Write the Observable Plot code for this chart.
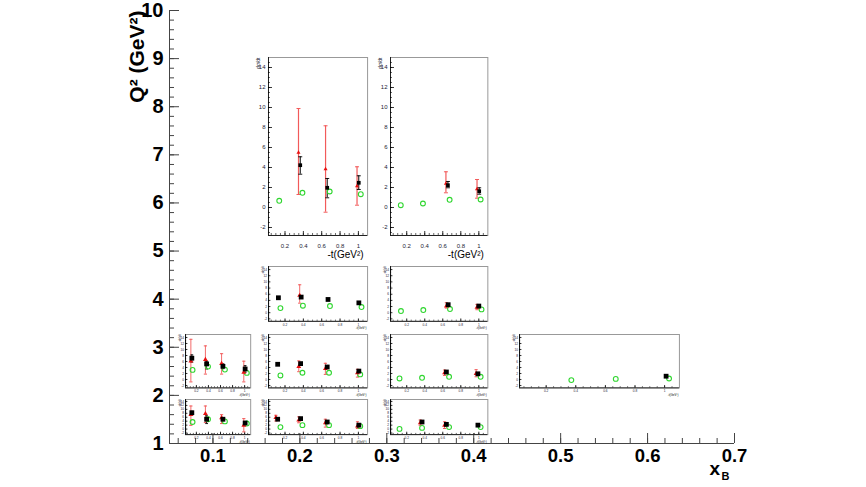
<!DOCTYPE html>
<html><head><meta charset="utf-8">
<script src="https://cdn.jsdelivr.net/npm/d3@7"></script>
<script src="https://cdn.jsdelivr.net/npm/@observablehq/plot@0.6"></script>
<style>
body{margin:0;background:#fff;}
#chart{position:relative;width:866px;height:487px;overflow:hidden;}
#chart svg{position:absolute;overflow:visible;}
</style></head><body><div id="chart"></div>
<script>
// ---- main axes (xB, Q2) ----
const xBDomain = [0.05, 0.7];
const q2Domain = [1, 10];
const xBTicks = [0.1, 0.2, 0.3, 0.4, 0.5, 0.6, 0.7];
const q2Ticks = [1, 2, 3, 4, 5, 6, 7, 8, 9, 10];

// ---- inset panels: bin ranges in (xB, Q2) ----
const panelIds = ["B1", "C1", "B2", "C2", "A3", "B3", "C3", "D3", "A4", "B4", "C4"];
const panelXB = {A: [0.068, 0.143], B: [0.164, 0.278], C: [0.304, 0.416], D: [0.453, 0.637]};
const panelQ2 = {1: [5.32, 9.02], 2: [3.54, 4.68], 3: [2.16, 3.27], 4: [1.19, 1.92]};

// ---- inset axes (-t, dsigma/dt) ----
const tDomain = [0.02, 1.1];
const sDomain = [-2.8, 15];
const tTicks = [0.2, 0.4, 0.6, 0.8, 1];
const sTicks = [-2, 0, 2, 4, 6, 8, 10, 12, 14];

// black squares: [panel, -t, value, low, high]
const dataPts = [
  ["B1", 0.366, 4.23, 3.33, 5.07], ["B1", 0.66, 1.97, 0.97, 2.9], ["B1", 1.004, 2.47, 1.8, 3.17],
  ["C1", 0.657, 2.23, 1.97, 2.6], ["C1", 1.004, 1.63, 1.33, 1.97],
  ["B2", 0.128, 4.85, 4.5, 5.2], ["B2", 0.376, 5.07, 4.7, 5.4], ["B2", 0.669, 4.3, 4.0, 4.6], ["B2", 1.005, 3.2, 2.9, 3.5],
  ["C2", 0.66, 2.6, 2.3, 2.9], ["C2", 1.0, 2.16, 1.9, 2.4],
  ["A3", 0.125, 7.1, 5.8, 8.2], ["A3", 0.37, 5.2, 3.5, 6.1], ["A3", 0.64, 4.4, 3.6, 5.2], ["A3", 1.008, 3.5, 2.4, 4.6],
  ["B3", 0.12, 5.07, 4.7, 5.4], ["B3", 0.37, 5.3, 5.0, 5.6], ["B3", 0.66, 4.17, 3.9, 4.5], ["B3", 1.005, 2.8, 2.5, 3.1],
  ["C3", 0.64, 2.5, 2.2, 2.8], ["C3", 0.99, 1.9, 1.6, 2.2],
  ["D3", 1.01, 1.1, 0.8, 1.4],
  ["A4", 0.125, 8.3, 7.3, 9.0], ["A4", 0.37, 5.0, 2.8, 6.7], ["A4", 0.64, 5.0, 4.2, 5.8], ["A4", 1.008, 3.1, 2.5, 3.7],
  ["B4", 0.12, 5.0, 4.6, 5.4], ["B4", 0.37, 5.3, 4.9, 5.7], ["B4", 0.66, 3.6, 3.2, 4.0], ["B4", 1.005, 2.0, 1.6, 2.4],
  ["C4", 0.37, 3.6, 3.2, 4.0], ["C4", 0.64, 2.4, 2.0, 2.8], ["C4", 0.99, 2.0, 1.6, 2.4]
];

// red triangles: [panel, -t, value, low, high]
const redPts = [
  ["B1", 0.347, 5.5, 1.3, 9.9], ["B1", 0.642, 3.83, -0.47, 8.17], ["B1", 0.985, 2.13, 0.23, 4.07],
  ["C1", 0.635, 2.4, 1.47, 3.57], ["C1", 0.98, 1.83, 0.93, 2.8],
  ["B2", 0.36, 5.6, 3.1, 9.06],
  ["C2", 0.64, 2.16, 1.5, 3.24], ["C2", 0.98, 1.73, 0.97, 2.7],
  ["A3", 0.109, 6.1, -0.8, 13.4], ["A3", 0.35, 6.65, 1.8, 11.2], ["A3", 0.618, 5.3, 1.8, 8.6], ["A3", 0.986, 2.4, -0.8, 6.1],
  ["B3", 0.35, 4.28, 2.6, 6.2], ["B3", 0.64, 3.6, 1.7, 5.4], ["B3", 0.99, 2.25, 0.8, 3.4],
  ["C3", 0.62, 2.25, 1.35, 3.15], ["C3", 0.97, 2.0, 0.9, 3.27],
  ["A4", 0.109, 7.3, 1.9, 11.7], ["A4", 0.35, 7.8, 3.3, 11.7], ["A4", 0.618, 5.7, 2.8, 7.3], ["A4", 0.986, 1.9, -1.4, 5.3],
  ["B4", 0.1, 5.8, 4.1, 7.0], ["B4", 0.35, 4.5, 3.2, 6.2], ["B4", 0.64, 3.2, 1.0, 5.0], ["B4", 0.99, 1.5, 0.3, 3.7],
  ["C4", 0.35, 3.2, 1.9, 4.6], ["C4", 0.62, 1.9, 0.3, 3.7]
];

// green open circles (model): [panel, -t, value]
const modelPts = [
  ["B1", 0.137, 0.67], ["B1", 0.39, 1.47], ["B1", 0.687, 1.6], ["B1", 1.026, 1.33],
  ["C1", 0.134, 0.23], ["C1", 0.38, 0.4], ["C1", 0.676, 0.77], ["C1", 1.02, 0.8],
  ["B2", 0.15, 1.5], ["B2", 0.395, 2.27], ["B2", 0.69, 2.16], ["B2", 1.034, 1.83],
  ["C2", 0.136, 0.54], ["C2", 0.384, 0.86], ["C2", 0.68, 1.19], ["C2", 1.03, 1.08],
  ["A3", 0.137, 3.2], ["A3", 0.393, 4.3], ["A3", 0.673, 3.3], ["A3", 1.036, 2.2],
  ["B3", 0.15, 1.35], ["B3", 0.39, 2.25], ["B3", 0.68, 2.25], ["B3", 1.02, 1.7],
  ["C3", 0.12, 0.34], ["C3", 0.37, 0.56], ["C3", 0.67, 0.9], ["C3", 1.02, 0.9],
  ["D3", 0.37, -0.2], ["D3", 0.67, 0.2], ["D3", 1.03, 0.33],
  ["A4", 0.137, 3.6], ["A4", 0.393, 5.0], ["A4", 0.673, 3.9], ["A4", 1.036, 2.8],
  ["B4", 0.15, 1.0], ["B4", 0.39, 2.0], ["B4", 0.68, 2.0], ["B4", 1.02, 1.5],
  ["C4", 0.12, 0.1], ["C4", 0.37, 0.6], ["C4", 0.67, 1.0], ["C4", 1.02, 1.0]
];

const FONT = "'Liberation Sans', Arial, Helvetica, sans-serif";
const W = 866, H = 487;
const mLeft = 169, mRight = 132, mTop = 10, mBottom = 44;
const frameW = W - mLeft - mRight, frameH = H - mTop - mBottom;
const axisColor = "#444";

const xBMinor = d3.range(0.06, 0.7001, 0.02);
const q2Minor = d3.range(1.2, 10.001, 0.2);

const main = Plot.plot({
  width: W, height: H,
  marginLeft: mLeft, marginRight: mRight, marginTop: mTop, marginBottom: mBottom,
  x: {domain: xBDomain},
  y: {domain: q2Domain},
  style: {fontFamily: FONT, background: "white", color: "#000"},
  marks: [
    Plot.ruleX([xBDomain[0]], {stroke: axisColor}),
    Plot.ruleY([q2Domain[0]], {stroke: axisColor}),
    Plot.tickX(xBMinor, {x: d => d, insetTop: frameH - 5, stroke: axisColor}),
    Plot.tickX(xBTicks, {x: d => d, insetTop: frameH - 10, stroke: axisColor}),
    Plot.tickY(q2Minor, {y: d => d, insetRight: frameW - 5, stroke: axisColor}),
    Plot.tickY(q2Ticks, {y: d => d, insetRight: frameW - 10, stroke: axisColor}),
    Plot.axisX({ticks: xBTicks, tickSize: 0, tickPadding: 5, fontSize: 18.5, fontWeight: "bold", label: null, tickFormat: d => d.toFixed(1)}),
    Plot.axisY({ticks: q2Ticks, tickSize: 0, tickPadding: 6, fontSize: 20, fontWeight: "bold", label: null, tickFormat: d => String(d)}),
    Plot.text(["Q² (GeV²)"], {frameAnchor: "top-left", rotate: -90, textAnchor: "end", dx: -40, dy: 0, fontSize: 21, fontWeight: "bold"}),
    Plot.text(["x"], {frameAnchor: "bottom-right", dx: -14.5, dy: 31, fontSize: 19, fontWeight: "bold"}),
    Plot.text(["B"], {frameAnchor: "bottom-right", dx: -5, dy: 36.5, fontSize: 11, fontWeight: "bold"})
  ]
});
const chart = document.getElementById("chart");
main.style.left = "0px"; main.style.top = "0px";
chart.appendChild(main);

const sx = main.scale("x"), sy = main.scale("y");
const capSymbol = {draw(ctx, size) { const r = Math.sqrt(size / Math.PI); ctx.moveTo(-r, 0); ctx.lineTo(r, 0); }};
const tMinor = d3.range(0.05, 1.1, 0.05);
const sMinor = d3.range(-2.5, 15, 0.5);
const fmtS = d => d < 0 ? "-" + (-d) : String(d);
const fmtT = d => d === 1 ? "1" : d.toFixed(1);

for (const id of panelIds) {
  const col = id[0], row = +id[1];
  const big = row === 1;
  const x0 = sx.apply(panelXB[col][0]), x1 = sx.apply(panelXB[col][1]);
  const yTop = sy.apply(panelQ2[row][1]), yBot = sy.apply(panelQ2[row][0]);
  const w = x1 - x0, h = yBot - yTop;
  const mL = big ? 18 : 10, mR = 4, mT = 4, mB = big ? 30 : 11;
  const fs = big ? 6 : 3.2;
  const sel = d => d[0] === id;
  const blk = dataPts.filter(sel), red = redPts.filter(sel), grn = modelPts.filter(sel);
  const k = big ? 1 : 0.6;
  const p = Plot.plot({
    width: w + mL + mR, height: h + mT + mB,
    marginLeft: mL, marginRight: mR, marginTop: mT, marginBottom: mB,
    x: {domain: tDomain}, y: {domain: sDomain},
    style: {fontFamily: FONT, background: "none", color: "#223"},
    marks: [
      Plot.frame({stroke: "#999", strokeWidth: 1}),
      Plot.ruleX([tDomain[0]], {stroke: "#000", strokeWidth: 0.8}),
      Plot.ruleY([sDomain[0]], {stroke: "#000", strokeWidth: 0.8}),
      Plot.tickY(sMinor, {y: d => d, insetRight: w - 2 * k, stroke: "#000", strokeWidth: 0.6}),
      Plot.tickY(sTicks, {y: d => d, insetRight: w - 4 * k, stroke: "#000", strokeWidth: 0.8}),
      Plot.tickX(tMinor, {x: d => d, insetTop: h - 2 * k, stroke: "#000", strokeWidth: 0.6}),
      Plot.tickX(tTicks, {x: d => d, insetTop: h - 4 * k, stroke: "#000", strokeWidth: 0.8}),
      Plot.axisY({ticks: sTicks, tickSize: 0, tickPadding: big ? 3 : 1.5, fontSize: fs, label: null, tickFormat: fmtS}),
      Plot.axisX({ticks: tTicks, tickSize: 0, tickPadding: big ? 8 : 2, fontSize: fs, label: null, tickFormat: fmtT}),
      Plot.text(["dσ/dt"], {frameAnchor: "top-left", rotate: -90, textAnchor: "end", dx: big ? -12 : -7, fontSize: big ? 5 : 3, fill: "#223"}),
      Plot.text(["-t(GeV²)"], {frameAnchor: "bottom-right", textAnchor: "end", dx: big ? -4 : -1, dy: big ? 23 : 8, fontSize: big ? 10 : 3, fill: "#000"}),
      // red error bars
      Plot.ruleX(red, {x: d => d[1], y1: d => d[3], y2: d => d[4], stroke: "#f25a5a", strokeWidth: big ? 1.2 : 0.9}),
      Plot.dot(red, {x: d => d[1], y: d => d[3], symbol: capSymbol, r: big ? 2 : 1.6, fill: "none", stroke: "#f25a5a", strokeWidth: 1}),
      Plot.dot(red, {x: d => d[1], y: d => d[4], symbol: capSymbol, r: big ? 2 : 1.6, fill: "none", stroke: "#f25a5a", strokeWidth: 1}),
      // black error bars
      Plot.ruleX(blk, {x: d => d[1], y1: d => d[3], y2: d => d[4], stroke: "#000", strokeWidth: big ? 1 : 0.8}),
      Plot.dot(blk, {x: d => d[1], y: d => d[3], symbol: capSymbol, r: big ? 2 : 1.4, fill: "none", stroke: "#000", strokeWidth: 0.9}),
      Plot.dot(blk, {x: d => d[1], y: d => d[4], symbol: capSymbol, r: big ? 2 : 1.4, fill: "none", stroke: "#000", strokeWidth: 0.9}),
      // model
      Plot.dot(grn, {x: d => d[1], y: d => d[2], symbol: "circle", r: 2.4, fill: "none", stroke: "#2fd62f", strokeWidth: 1.1}),
      // red triangles
      Plot.dot(red, {x: d => d[1], y: d => d[2], symbol: "triangle", r: big ? 1.5 : 1.8, fill: "#e81010", stroke: "none"}),
      // black squares
      Plot.dot(blk, {x: d => d[1], y: d => d[2], symbol: "square", r: big ? 2.1 : 2.7, fill: "#000", stroke: "none"})
    ]
  });
  p.style.left = (x0 - mL) + "px";
  p.style.top = (yTop - mT) + "px";
  chart.appendChild(p);
}
</script></body></html>
